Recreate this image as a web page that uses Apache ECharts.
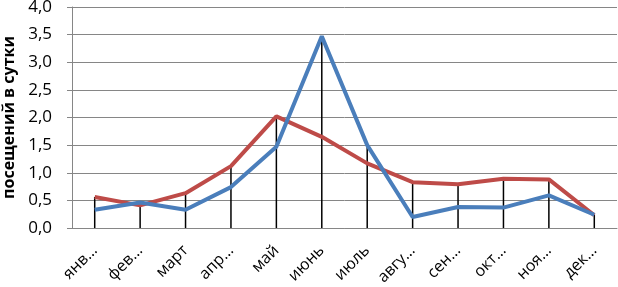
<!DOCTYPE html>
<html>
<head>
<meta charset="utf-8">
<script src="https://cdn.jsdelivr.net/npm/echarts@6/dist/echarts.min.js"></script>
<style>
  html, body { margin: 0; padding: 0; background: #fff; }
  #chart { width: 618px; height: 287px; }
</style>
</head>
<body>
<div id="chart"></div>
<script>
const months = ["янв…", "фев…", "март", "апр…", "май", "июнь", "июль", "авгу…", "сен…", "окт…", "ноя…", "дек…"];
const blueValues = [0.33, 0.46, 0.33, 0.74, 1.47, 3.47, 1.50, 0.20, 0.38, 0.37, 0.59, 0.24];
const redValues = [0.56, 0.41, 0.63, 1.12, 2.02, 1.65, 1.17, 0.83, 0.79, 0.89, 0.88, 0.23];
const yTicks = [0, 0.5, 1, 1.5, 2, 2.5, 3, 3.5, 4];

// high line for each month goes from axis up to the larger of the two values
const dropValues = blueValues.map((v, i) => Math.max(v, redValues[i]));

const chart = echarts.init(document.getElementById("chart"));

const font = "'Open Sans', sans-serif";

const option = {
  animation: false,
  grid: { left: 72, right: 1, top: 7, bottom: 59, outerBoundsMode: "none" },
  xAxis: {
    type: "category",
    data: months,
    boundaryGap: true,
    axisLine: { lineStyle: { color: "#868686", width: 1 } },
    axisTick: { show: false },
    axisLabel: {
      rotate: 45,
      color: "#000",
      fontFamily: font,
      fontSize: 16,
      margin: 20,
      interval: 0
    }
  },
  yAxis: {
    type: "value",
    min: yTicks[0],
    max: yTicks[yTicks.length - 1],
    interval: 0.5,
    name: "посещений в сутки",
    nameLocation: "middle",
    nameGap: 45,
    nameTextStyle: { fontFamily: font, fontSize: 16, fontWeight: "bold", color: "#000" },
    axisLine: { show: true, lineStyle: { color: "#868686" } },
    axisTick: { show: true, length: 5, lineStyle: { color: "#868686" } },
    splitLine: { lineStyle: { color: "#868686", width: 1 } },
    axisLabel: {
      color: "#000",
      fontFamily: font,
      fontSize: 17,
      margin: 20,
      formatter: (v) => v.toFixed(1).replace(".", ",")
    }
  },
  series: [
    {
      type: "bar",
      data: dropValues,
      barWidth: 1.5,
      itemStyle: { color: "#000" },
      z: 1,
      silent: true
    },
    {
      type: "line",
      data: blueValues,
      symbol: "none",
      lineStyle: { color: "#4a7ebb", width: 4 },
      z: 3
    },
    {
      type: "line",
      data: redValues,
      symbol: "none",
      lineStyle: { color: "#be4b48", width: 4 },
      z: 2
    }
  ]
};

chart.setOption(option);
</script>
</body>
</html>
